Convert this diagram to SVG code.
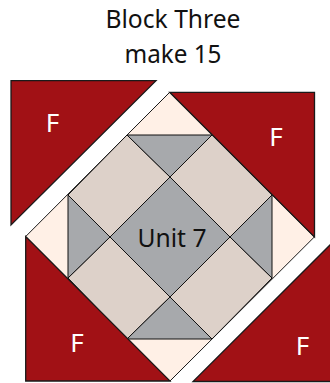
<svg xmlns="http://www.w3.org/2000/svg" width="330" height="383" viewBox="0 0 330 383">
<style>
.f{fill:#a11115;stroke:#1a1a1a;stroke-width:1.3}
.c{fill:#fff0e6;stroke:#1a1a1a;stroke-width:1}
.t{fill:#ddd1c9;stroke:#111;stroke-width:1}
.g{fill:#a7a9ac;stroke:#111;stroke-width:1}
text{font-family:"Noto Sans","Open Sans",sans-serif;text-anchor:middle}
.w{fill:#fff;font-size:26px}
.k{fill:#111;font-size:25px}
</style>
<g id="title"><text class="k" x="173" y="28" textLength="135" lengthAdjust="spacingAndGlyphs">Block Three</text><text class="k" x="173" y="63" textLength="97" lengthAdjust="spacingAndGlyphs">make 15</text></g>
<g id="background-diamond"><polygon class="c" points="169.7,92.3 314.3,237 170,381 25.7,236.5"/></g>
<g id="tan-squares">
<polygon class="t" points="127,135 170,177 110,237 68,195"/>
<polygon class="t" points="212,135 272,195 230,237 170,177"/>
<polygon class="t" points="110,237 170,297 127,339 68,278"/>
<polygon class="t" points="230,237 272,278 212,339 170,297"/>
</g>
<g id="gray-triangles">
<polygon class="g" points="127,135 212,135 170,177"/>
<polygon class="g" points="68,195 110,237 68,278"/>
<polygon class="g" points="272,195 272,278 230,237"/>
<polygon class="g" points="127,339 170,297 212,339"/>
</g>
<g id="unit7"><polygon class="g" points="170,177 230,237 170,297 110,237"/><text class="k" x="172" y="246.5" textLength="69" lengthAdjust="spacingAndGlyphs">Unit 7</text></g>
<g id="f-top-left"><polygon class="f" points="11,80.7 156,80.7 11,225"/><text class="w" x="52.5" y="132">F</text></g>
<g id="f-top-right"><polygon class="f" points="169.7,92.3 314.5,92.3 314.5,237"/><text class="w" x="276" y="146">F</text></g>
<g id="f-bottom-left"><polygon class="f" points="25.7,236.5 25.7,381 170,381"/><text class="w" x="77" y="351.5">F</text></g>
<g id="f-bottom-right"><polygon class="f" points="331,244 331,381.5 193,381.5"/><text class="w" x="302.5" y="355">F</text></g>
</svg>
